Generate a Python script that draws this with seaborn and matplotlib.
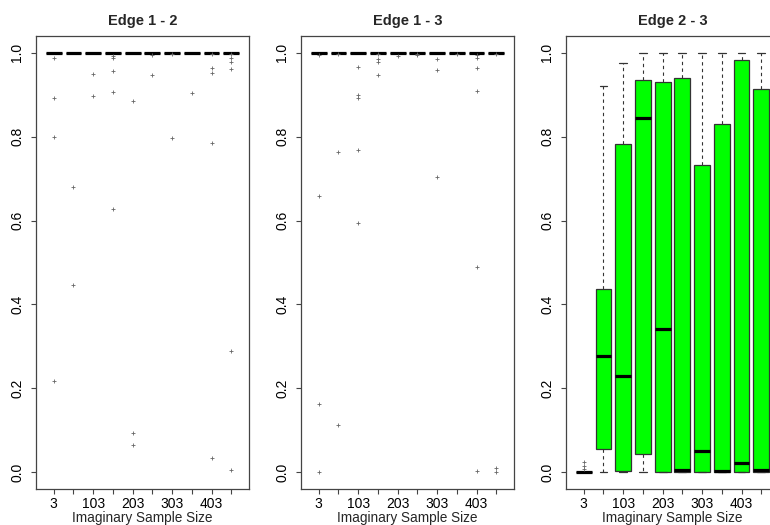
import matplotlib
matplotlib.use("Agg")
import matplotlib.pyplot as plt
import numpy as np
import pandas as pd
import seaborn as sns

# Imaginary sample sizes (one box per size) and the x labels that are printed
sizes = [3, 53, 103, 153, 203, 253, 303, 353, 403, 453]
size_labels = ["3", "", "103", "", "203", "", "303", "", "403", ""]
y_ticks = [0.0, 0.2, 0.4, 0.6, 0.8, 1.0]
titles = ["Edge 1 - 2", "Edge 1 - 3", "Edge 2 - 3"]

# Edge 1 - 2: five-number summaries (all collapsed at 1.0) and outliers
e12_min = [1.0] * 10
e12_q1 = [1.0] * 10
e12_med = [1.0] * 10
e12_q3 = [1.0] * 10
e12_max = [1.0] * 10
e12_out = [
    [0.987, 0.892, 0.800, 0.217],
    [0.681, 0.446],
    [0.949, 0.897],
    [0.993, 0.987, 0.957, 0.906, 0.628],
    [0.885, 0.094, 0.065],
    [0.994, 0.946],
    [0.997, 0.796],
    [0.905],
    [0.997, 0.963, 0.952, 0.784, 0.033],
    [0.997, 0.987, 0.978, 0.962, 0.290, 0.006],
]

# Edge 1 - 3
e13_min = [1.0] * 10
e13_q1 = [1.0] * 10
e13_med = [1.0] * 10
e13_q3 = [1.0] * 10
e13_max = [1.0] * 10
e13_out = [
    [0.995, 0.658, 0.162, 0.001],
    [0.997, 0.764, 0.113],
    [0.967, 0.899, 0.891, 0.768, 0.594],
    [0.997, 0.985, 0.977, 0.947],
    [0.993],
    [0.996, 0.994],
    [0.985, 0.958, 0.704],
    [0.997],
    [0.995, 0.987, 0.964, 0.909, 0.489, 0.004],
    [0.997, 0.009, 0.001],
]

# Edge 2 - 3
e23_min = [0.0, 0.0, 0.0, 0.0, 0.0, 0.0, 0.0, 0.0, 0.0, 0.0]
e23_q1 = [0.0, 0.056, 0.002, 0.043, 0.0, 0.0, 0.0, 0.0, 0.0, 0.0]
e23_med = [0.0, 0.278, 0.229, 0.844, 0.341, 0.005, 0.051, 0.002, 0.022, 0.006]
e23_q3 = [0.0, 0.436, 0.783, 0.935, 0.931, 0.939, 0.732, 0.830, 0.982, 0.914]
e23_max = [0.0, 0.920, 0.976, 1.0, 1.0, 1.0, 1.0, 1.0, 1.0, 1.0]
e23_out = [[0.008, 0.016, 0.025], [], [], [], [], [], [], [], [], []]

panels = [
    (e12_min, e12_q1, e12_med, e12_q3, e12_max, e12_out, "white"),
    (e13_min, e13_q1, e13_med, e13_q3, e13_max, e13_out, "white"),
    (e23_min, e23_q1, e23_med, e23_q3, e23_max, e23_out, "#00ff00"),
]

sns.set_theme(style="ticks")
plt.rcParams["font.family"] = ["Liberation Sans", "DejaVu Sans"]

order = [str(s) for s in sizes]
frame_col = "#444444"

fig = plt.figure(figsize=(7.7, 5.25), dpi=100)
W, H = 770.0, 525.0
lefts = [36, 301, 566]
ax_w, ax_top, ax_bot = 213, 36, 489

for i, (mn, q1, md, q3, mx, outs, fill) in enumerate(panels):
    ax = fig.add_axes([lefts[i] / W, (H - ax_bot) / H, ax_w / W, (ax_bot - ax_top) / H])

    rows = []
    for s, a, b, c, d, e in zip(sizes, mn, q1, md, q3, mx):
        for v in (a, b, c, d, e):
            rows.append({"size": str(s), "value": v})
    box_df = pd.DataFrame(rows)

    sns.boxplot(
        data=box_df, x="size", y="value", order=order, ax=ax,
        color=fill, saturation=1, width=0.8, whis=1.5, showfliers=False,
        linecolor="#333333", linewidth=0.9,
        medianprops={"color": "black", "linewidth": 2.3},
        whiskerprops={"linestyle": (0, (3, 3)), "linewidth": 0.8},
        capprops={"linewidth": 0.9},
    )

    out_rows = [{"size": str(s), "value": v} for s, vals in zip(sizes, outs) for v in vals]
    if out_rows:
        sns.stripplot(
            data=pd.DataFrame(out_rows), x="size", y="value", order=order, ax=ax,
            jitter=False, marker="+", size=3, color="#666666", linewidth=0.6,
        )

    ax.set_xlim(-0.9, 9.9)
    ax.set_ylim(-0.04, 1.04)
    ax.set_xticks(range(len(sizes)))
    ax.set_xticklabels(size_labels)
    ax.set_yticks(y_ticks)
    ax.set_yticklabels([f"{v:.1f}" for v in y_ticks], rotation=90, va="center", ha="right")
    ax.tick_params(axis="both", length=3.5, width=0.8, color=frame_col,
                   labelsize=10, labelcolor="black")
    ax.tick_params(axis="x", pad=2)
    ax.tick_params(axis="y", pad=5)
    for sp in ax.spines.values():
        sp.set_visible(True)
        sp.set_color(frame_col)
        sp.set_linewidth(0.9)
    ax.set_xlabel("Imaginary Sample Size", fontsize=9.8, labelpad=0)
    ax.set_ylabel("")
    ax.set_title(titles[i], fontsize=10.5, fontweight="bold", pad=8)
    ax.set_facecolor("white")

fig.savefig("out.png", dpi=100, facecolor="white")
